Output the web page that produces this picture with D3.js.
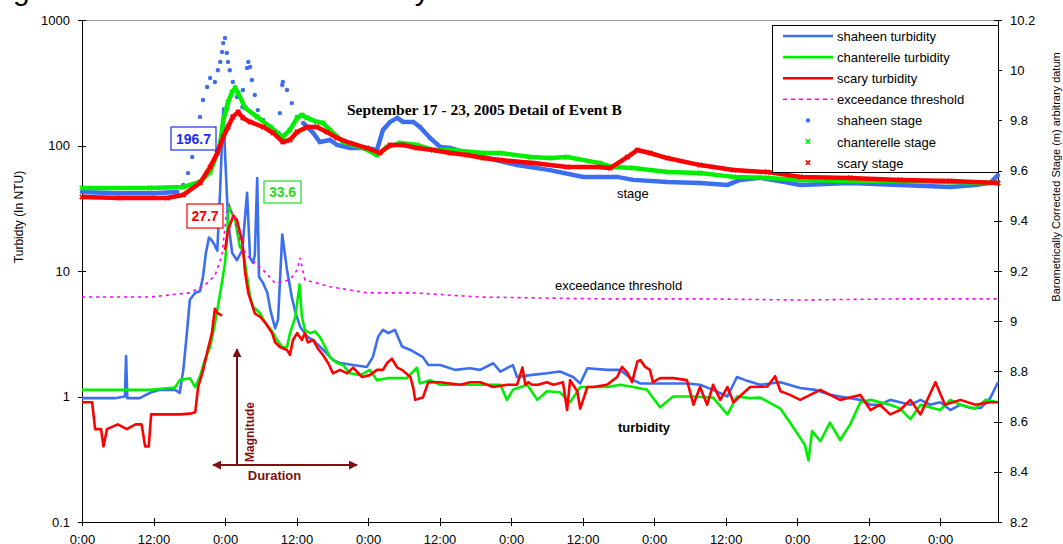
<!DOCTYPE html>
<html lang="en">
<head>
<meta charset="UTF-8">
<title>Event B turbidity and stage</title>
<script src="https://d3js.org/d3.v7.min.js"></script>
<style>
    body { margin: 0; background: #fff; }
    svg { display: block; font-family: "Liberation Sans", Arial, sans-serif; }
    .axis path, .axis line { fill: none; stroke: #000; shape-rendering: crispEdges; }
    .axis text { font-size: 13px; fill: #000; }
    .legend text { font-size: 13px; fill: #000; }
</style>
</head>
<body>
<svg width="1063" height="544"></svg>
<script>
// hours after 0:00, September 17 2005
var xTicks = [0, 12, 24, 36, 48, 60, 72, 84, 96, 108, 120, 132, 144];
var turbTicks = [0.1, 1, 10, 100, 1000];
var stageTicks = [8.2, 8.4, 8.6, 8.8, 9, 9.2, 9.4, 9.6, 9.8, 10, 10.2];

// turbidity, NTU  [hour, value]
var shaheenTurb = [[0,0.97],[3,0.97],[5.5,0.97],[7.2,1.0],[7.4,2.1],[7.6,0.97],[9.7,0.97],[11.4,1.07],[13.1,1.13],[15.6,1.13],[16.4,1.07],[17.0,1.63],[17.6,3.2],[18.1,5.9],[19.0,6.7],[19.8,6.9],[20.3,9.0],[20.8,14],[21.3,18.5],[21.8,17.5],[22.3,16],[22.7,14.5],[23.2,46.8],[23.7,196.7],[24.0,87],[24.5,25.5],[25.2,13.9],[26.0,12.2],[26.9,14.7],[27.7,41.9],[28.2,12.7],[28.7,11.6],[29.0,13.4],[29.4,55.1],[29.7,9.0],[30.4,8.0],[31.1,6.7],[31.6,4.9],[32.4,3.5],[32.9,4.1],[33.6,19.5],[34.4,10.2],[35.2,6.2],[35.8,4.7],[36.6,3.6],[37.8,3.0],[38.8,2.8],[39.9,2.5],[41.1,2.2],[42.1,1.95],[43.3,1.85],[45.5,1.78],[47.8,1.72],[48.8,2.06],[49.7,3.0],[50.5,3.4],[51.4,3.2],[52.5,3.4],[53.7,2.5],[55.1,2.35],[56.2,2.2],[57.2,2.06],[58.1,1.78],[60.1,1.78],[62.6,1.63],[65.1,1.68],[66.8,1.63],[69.0,1.84],[70.2,1.58],[72.3,1.78],[73.0,1.43],[75.2,1.48],[78.0,1.53],[80.2,1.58],[82.4,1.43],[83.6,1.27],[84.8,1.68],[88.1,1.63],[90.3,1.63],[92.5,1.35],[93.7,1.27],[95.8,1.27],[99.2,1.27],[101.5,1.27],[103.7,1.24],[105.9,1.13],[108.3,1.0],[109.9,1.43],[111.3,1.35],[113.8,1.24],[117.2,1.3],[120.5,1.17],[123.0,1.13],[125.5,1.03],[128.9,0.97],[130.6,0.94],[132.3,0.86],[133.9,0.86],[135.6,0.94],[137.3,0.9],[139.0,0.86],[140.7,0.94],[142.3,0.86],[144.0,0.9],[145.7,0.78],[147.4,0.86],[149.1,0.81],[150.8,0.81],[152.4,0.97],[153.7,1.3]];

var chanterelleTurb = [[0,1.13],[11.4,1.13],[15.6,1.18],[16.4,1.35],[18.1,1.4],[19.0,1.19],[19.8,1.45],[20.6,1.95],[21.5,2.48],[22.3,3.8],[23.2,6.7],[24.0,11.6],[24.3,17.5],[24.6,33.6],[25.0,30],[25.7,25.5],[26.5,15.5],[27.0,14.7],[27.7,9.0],[28.2,6.2],[28.7,5.2],[29.9,4.6],[30.7,3.9],[31.9,3.3],[32.7,2.82],[33.6,2.48],[34.4,2.48],[34.9,3.2],[35.8,4.3],[36.5,7.8],[36.9,4.3],[37.4,3.4],[38.3,3.2],[39.1,3.3],[39.9,2.98],[40.8,2.48],[41.6,2.06],[42.8,1.85],[43.8,1.78],[45.0,1.53],[46.7,1.48],[48.3,1.63],[49.5,1.35],[51.2,1.4],[52.9,1.4],[54.5,1.4],[56.2,1.7],[56.7,1.27],[58.4,1.35],[60.1,1.24],[63.5,1.24],[66.8,1.24],[70.2,1.24],[71.3,0.94],[72.3,1.13],[74.7,1.24],[76.4,0.94],[78.0,1.1],[80.2,1.08],[81.9,0.9],[83.6,1.19],[85.8,1.19],[88.1,1.19],[90.3,1.24],[92.5,1.19],[94.8,1.13],[97.0,0.82],[99.2,1.0],[102.6,1.0],[105.9,0.98],[108.3,0.72],[109.9,1.0],[112.1,0.97],[113.8,0.98],[117.2,0.8],[118.8,0.62],[120.5,0.47],[121.3,0.41],[121.9,0.31],[122.5,0.53],[123.9,0.44],[125.5,0.62],[127.2,0.45],[128.9,0.6],[130.6,0.9],[132.3,0.94],[135.6,0.86],[137.3,0.8],[139.0,0.66],[140.7,0.86],[144.0,0.78],[145.7,0.94],[147.4,0.86],[149.9,0.8],[151.6,0.94],[153.7,0.9]];

var scaryTurb = [[0,0.9],[1.7,0.9],[2.2,0.55],[3.2,0.55],[3.6,0.4],[4.2,0.55],[6.0,0.6],[7.5,0.55],[9.0,0.6],[10.0,0.6],[10.6,0.4],[11.2,0.4],[11.6,0.72],[14.0,0.72],[16.4,0.72],[18.1,0.73],[19.0,0.75],[19.5,1.2],[20.3,1.6],[21.1,2.35],[21.8,3.2],[22.3,5.0],[22.8,4.6],[23.5,4.4],[23.7,null],[24.0,14.7],[24.5,21],[25.4,27.7],[26.0,25.5],[26.9,17.0],[27.4,9.5],[27.9,6.7],[29.0,4.6],[29.9,4.3],[30.7,3.9],[31.2,3.6],[31.9,3.2],[32.4,2.7],[33.2,2.48],[34.4,2.35],[34.9,2.15],[35.4,2.82],[36.1,3.2],[36.9,2.82],[37.4,3.2],[37.9,2.7],[38.8,2.82],[39.6,2.4],[40.4,2.15],[41.3,1.85],[42.1,1.53],[43.3,1.63],[44.5,1.53],[45.5,1.7],[47.0,1.43],[48.3,1.48],[49.5,1.63],[50.5,1.63],[51.2,1.85],[52.0,2.0],[52.9,1.7],[53.7,1.63],[55.1,1.43],[55.6,1.16],[55.9,0.94],[57.2,0.98],[58.1,1.3],[60.1,1.3],[63.5,1.24],[65.1,1.3],[66.8,1.3],[68.0,1.24],[69.0,1.19],[71.3,1.24],[73.0,1.24],[73.9,1.7],[74.4,1.24],[74.9,1.3],[75.5,1.24],[76.5,1.24],[78.0,1.3],[79.1,1.24],[80.7,1.3],[81.4,0.78],[81.9,1.35],[83.1,1.1],[83.6,0.8],[84.8,1.19],[85.8,1.19],[88.1,1.24],[89.8,1.43],[90.6,1.72],[91.5,1.55],[92.3,1.3],[93.2,1.9],[93.7,1.95],[94.5,1.72],[95.3,1.63],[95.8,1.3],[97.0,1.4],[99.2,1.4],[101.5,1.35],[102.6,0.86],[103.7,1.19],[104.9,0.86],[105.9,1.24],[107.1,0.94],[108.3,1.19],[109.3,0.9],[112.1,1.19],[115.0,1.2],[116.3,1.45],[117.2,1.1],[118.8,1.03],[120.5,0.94],[123.9,1.13],[127.2,0.94],[130.6,1.03],[132.3,0.78],[133.9,0.86],[135.6,0.72],[137.3,0.78],[139.0,0.94],[140.7,0.72],[143.2,1.3],[144.8,0.86],[147.4,0.94],[149.9,0.86],[152.4,0.9],[153.7,0.9]];

var threshold = [[0,6.2],[11.4,6.2],[18.1,6.7],[20.6,7.7],[22.3,9.2],[23.5,13.4],[24.2,27.9],[24.7,33.6],[25.3,27.9],[26.5,17.7],[27.4,13.9],[28.5,12.2],[30.4,10.2],[32.4,8.0],[34.9,8.5],[36.1,10.2],[36.6,12.7],[37.4,8.5],[41.6,7.5],[47.8,6.7],[55.6,6.7],[66.8,6.2],[86.9,6.0],[103.7,6.0],[120.5,5.87],[137.3,6.0],[153.7,6.0]];

// stage, m  [hour, value]
var shaheenStage = [[0,9.515],[6,9.51],[12,9.51],[16,9.515],[17.0,9.543],[17.8,9.590],[18.5,9.654],[19.0,9.710],[19.8,9.814],[20.3,9.881],[21.0,9.933],[21.5,9.969],[22.3,9.953],[22.8,10.0],[23.2,10.033],[23.5,10.073],[23.7,10.108],[24.0,10.128],[24.3,10.069],[24.5,10.033],[24.8,10.0],[25.3,9.953],[26.0,9.893],[26.9,9.853],[27.0,9.921],[27.7,10.009],[27.9,10.033],[28.2,10.013],[28.5,9.961],[29.0,9.901],[29.5,9.841],[30.4,9.802],[31.6,9.774],[32.9,9.750],[33.2,9.829],[33.6,9.941],[33.7,9.953],[34.4,9.921],[35.2,9.869],[36.1,9.814],[37.1,9.790],[38.8,9.750],[39.9,9.714],[41.6,9.722],[42.8,9.702],[45.0,9.690],[47.8,9.690],[49.5,9.682],[50.0,9.722],[50.5,9.762],[51.7,9.794],[52.9,9.810],[53.9,9.794],[55.6,9.794],[56.7,9.774],[58.4,9.730],[60.1,9.694],[61.8,9.690],[64.6,9.670],[67.3,9.654],[73.0,9.622],[78.5,9.602],[84.1,9.575],[89.8,9.575],[92.5,9.563],[98.2,9.555],[103.7,9.551],[108.3,9.543],[110.4,9.563],[113.8,9.571],[117.7,9.555],[120.5,9.543],[128.9,9.551],[137.3,9.543],[145.7,9.535],[149.9,9.543],[152.4,9.551],[153.7,9.582]];

var chanterelleStage = [[0,9.531],[11.4,9.531],[17.0,9.535],[19.8,9.555],[21.5,9.594],[22.7,9.670],[23.2,9.710],[23.7,9.802],[24.3,9.849],[24.5,9.873],[25.2,9.913],[25.7,9.929],[26.2,9.909],[27.4,9.849],[29.4,9.814],[31.6,9.774],[33.7,9.734],[34.9,9.762],[36.1,9.810],[36.9,9.821],[37.8,9.810],[39.4,9.794],[40.4,9.790],[41.6,9.762],[43.8,9.714],[47.2,9.690],[49.5,9.662],[51.2,9.694],[53.4,9.710],[56.2,9.702],[58.9,9.682],[61.8,9.682],[67.3,9.670],[70.2,9.670],[75.2,9.654],[78.5,9.650],[81.4,9.654],[86.9,9.630],[89.1,9.614],[92.5,9.610],[98.2,9.594],[103.7,9.590],[109.3,9.575],[115.0,9.571],[120.5,9.563],[128.9,9.559],[137.3,9.559],[145.7,9.555],[153.7,9.551]];

var scaryStage = [[0,9.495],[6.4,9.491],[14.3,9.491],[17.0,9.503],[19.8,9.551],[21.5,9.614],[22.7,9.670],[23.7,9.734],[24.5,9.774],[25.3,9.814],[26.2,9.833],[27.0,9.810],[28.2,9.794],[30.4,9.774],[32.1,9.750],[33.7,9.714],[34.9,9.722],[36.1,9.754],[37.8,9.774],[39.4,9.774],[41.1,9.754],[42.8,9.730],[45.0,9.710],[47.8,9.690],[50.0,9.670],[51.7,9.702],[53.9,9.702],[56.2,9.690],[58.9,9.682],[61.8,9.670],[64.6,9.662],[67.3,9.650],[70.2,9.642],[75.7,9.630],[81.4,9.614],[86.9,9.614],[88.6,9.610],[91.5,9.654],[93.2,9.682],[95.3,9.670],[98.2,9.650],[103.7,9.622],[109.3,9.602],[115.0,9.594],[120.5,9.575],[128.9,9.571],[137.3,9.563],[145.7,9.559],[153.7,9.551]];

var blue = "#3c6ef0", green = "#00ee00", red = "#ff0000", magenta = "#ff00ff", maroon = "#801010";

var svg = d3.select("svg"),
    margin = {top: 20, right: 65, bottom: 22, left: 82},
    width = +svg.attr("width") - margin.left - margin.right,
    height = +svg.attr("height") - margin.top - margin.bottom,
    g = svg.append("g").attr("transform", "translate(" + margin.left + "," + margin.top + ")");

var x = d3.scaleLinear().domain([0, 153.7]).range([0, width]);
var yTurb = d3.scaleLog().domain([0.1, 1000]).range([height, 0]);
var yStage = d3.scaleLinear().domain([8.2, 10.2]).range([height, 0]);

// title, cut by the top of the frame (only descenders show)
svg.append("text")
    .attr("x", -12).attr("y", 0)
    .style("font-size", "30px")
    .text("Figure 9. Event B Creek Turbidity");

// top border of plot area
g.append("line")
    .attr("x1", 0).attr("x2", width).attr("y1", 0.5).attr("y2", 0.5)
    .attr("stroke", "#999");

// axes
var xAxis = g.append("g").attr("class", "axis")
    .attr("transform", "translate(0," + height + ")")
    .call(d3.axisBottom(x).tickValues(xTicks).tickSize(4).tickSizeOuter(0)
        .tickFormat(function(h) { return h % 24 === 0 ? "0:00" : "12:00"; }));
xAxis.selectAll(".tick line").attr("y1", -4);
xAxis.selectAll(".tick text").attr("y", 13);

var yAxisL = g.append("g").attr("class", "axis")
    .call(d3.axisLeft(yTurb).tickValues(turbTicks).tickSize(4).tickSizeOuter(0)
        .tickFormat(d3.format("~g")));
yAxisL.selectAll(".tick line").attr("x1", 4);
yAxisL.selectAll(".tick text").attr("x", -12);

var yAxisR = g.append("g").attr("class", "axis")
    .attr("transform", "translate(" + width + ",0)")
    .call(d3.axisRight(yStage).tickValues(stageTicks).tickSize(4).tickSizeOuter(0)
        .tickFormat(d3.format("~g")));
yAxisR.selectAll(".tick line").attr("x1", -4);
yAxisR.selectAll(".tick text").attr("x", 12);

// axis titles
svg.append("text")
    .attr("transform", "translate(23,217) rotate(-90)")
    .attr("text-anchor", "middle")
    .style("font-size", "12px")
    .text("Turbidty (In NTU)");

svg.append("text")
    .attr("transform", "translate(1060,177) rotate(-90)")
    .attr("text-anchor", "middle")
    .style("font-size", "11px")
    .text("Barometrically Corrected Stage (m) arbitrary datum");

// turbidity lines
var turbLine = d3.line()
    .defined(function(d) { return d[1] != null; })
    .x(function(d) { return x(d[0]); })
    .y(function(d) { return yTurb(d[1]); });

[[shaheenTurb, blue], [chanterelleTurb, green], [scaryTurb, red]].forEach(function(s) {
    g.append("path").datum(s[0])
        .attr("fill", "none").attr("stroke", s[1]).attr("stroke-width", 2.6)
        .attr("stroke-linejoin", "round")
        .attr("d", turbLine);
});

g.append("path").datum(threshold)
    .attr("fill", "none").attr("stroke", magenta).attr("stroke-width", 1.6)
    .attr("stroke-dasharray", "3,4")
    .attr("d", turbLine);

// stage series: dense markers read as a thick band, sparse ones as dots
function stageLine(gap) {
    return d3.line()
        .defined(function(d) { return !gap || d[0] < gap[0] || d[0] > gap[1]; })
        .x(function(d) { return x(d[0]); })
        .y(function(d) { return yStage(d[1]); });
}
var cross = "M-2.2,-2.2L2.2,2.2M-2.2,2.2L2.2,-2.2";

g.append("path").datum(shaheenStage)
    .attr("fill", "none").attr("stroke", blue).attr("stroke-width", 4.5)
    .attr("d", stageLine([16.5, 36.8]));
g.selectAll(".sdot").data(shaheenStage).enter().append("circle")
    .attr("class", "sdot")
    .attr("cx", function(d) { return x(d[0]); })
    .attr("cy", function(d) { return yStage(d[1]); })
    .attr("r", 2.2).attr("fill", blue);

[[chanterelleStage, green], [scaryStage, red]].forEach(function(s, i) {
    g.append("path").datum(s[0])
        .attr("fill", "none").attr("stroke", s[1]).attr("stroke-width", 4.5)
        .attr("d", stageLine(null));
    g.selectAll(".sx" + i).data(s[0]).enter().append("path")
        .attr("class", "sx" + i)
        .attr("transform", function(d) { return "translate(" + x(d[0]) + "," + yStage(d[1]) + ")"; })
        .attr("d", cross).attr("stroke", s[1]).attr("stroke-width", 1.6);
});

// peak value boxes
var peaks = [
    {label: "196.7", color: "#1a2ef0", x: 171, y: 127, w: 45, h: 23},
    {label: "27.7", color: red, x: 187, y: 204, w: 36, h: 24},
    {label: "33.6", color: "#22dd22", x: 264, y: 181, w: 37, h: 22}
];
peaks.forEach(function(p) {
    svg.append("rect").attr("x", p.x).attr("y", p.y).attr("width", p.w).attr("height", p.h)
        .attr("fill", "#fff").attr("stroke", p.color).attr("stroke-width", 1.2);
    svg.append("text").attr("x", p.x + p.w / 2).attr("y", p.y + p.h / 2 + 5)
        .attr("text-anchor", "middle").attr("fill", p.color)
        .style("font-size", "14px").style("font-weight", "bold")
        .text(p.label);
});

// notes
svg.append("text").attr("x", 347).attr("y", 115)
    .style("font-family", "'Liberation Serif', 'Times New Roman', serif")
    .style("font-size", "15.5px").style("font-weight", "bold")
    .text("September 17 - 23, 2005 Detail of Event B");
svg.append("text").attr("x", 617).attr("y", 198).style("font-size", "13px").text("stage");
svg.append("text").attr("x", 555).attr("y", 290).style("font-size", "13px").text("exceedance threshold");
svg.append("text").attr("x", 618).attr("y", 432).style("font-size", "13px").style("font-weight", "bold").text("turbidity");

// magnitude / duration arrows
var defs = svg.append("defs");
defs.append("marker").attr("id", "head")
    .attr("viewBox", "0 0 10 10").attr("refX", 9).attr("refY", 5)
    .attr("markerWidth", 4.5).attr("markerHeight", 4.5).attr("orient", "auto-start-reverse")
    .append("path").attr("d", "M0,0L10,5L0,10z").attr("fill", maroon);

svg.append("line").attr("x1", 237).attr("y1", 464).attr("x2", 237).attr("y2", 349)
    .attr("stroke", maroon).attr("stroke-width", 2).attr("marker-end", "url(#head)");
svg.append("line").attr("x1", 213).attr("y1", 465).attr("x2", 357).attr("y2", 465)
    .attr("stroke", maroon).attr("stroke-width", 2)
    .attr("marker-start", "url(#head)").attr("marker-end", "url(#head)");
svg.append("text").attr("transform", "translate(254,462) rotate(-90)")
    .attr("fill", maroon).style("font-size", "12px").style("font-weight", "bold")
    .text("Magnitude");
svg.append("text").attr("x", 274.5).attr("y", 480).attr("text-anchor", "middle")
    .attr("fill", maroon).style("font-size", "13px").style("font-weight", "bold")
    .text("Duration");

// legend
var legendItems = [
    {name: "shaheen turbidity", color: blue, type: "line"},
    {name: "chanterelle turbidity", color: green, type: "line"},
    {name: "scary turbidity", color: red, type: "line"},
    {name: "exceedance threshold", color: magenta, type: "dash"},
    {name: "shaheen stage", color: blue, type: "dot"},
    {name: "chanterelle stage", color: green, type: "cross"},
    {name: "scary stage", color: red, type: "cross"}
];
var legend = svg.append("g").attr("class", "legend");
legend.append("rect").attr("x", 772.5).attr("y", 25.5).attr("width", 226).attr("height", 147)
    .attr("fill", "#fff").attr("stroke", "#000");
legendItems.forEach(function(d, i) {
    var yy = 36 + i * 21.1;
    var row = legend.append("g").attr("transform", "translate(0," + yy + ")");
    if (d.type === "line" || d.type === "dash") {
        row.append("line").attr("x1", 783).attr("x2", 833).attr("y1", 0).attr("y2", 0)
            .attr("stroke", d.color).attr("stroke-width", d.type === "line" ? 2.6 : 1.6)
            .attr("stroke-dasharray", d.type === "dash" ? "4,4" : null);
    } else if (d.type === "dot") {
        row.append("circle").attr("cx", 808).attr("cy", 0).attr("r", 2.2).attr("fill", d.color);
    } else {
        row.append("path").attr("transform", "translate(808,0)").attr("d", cross)
            .attr("stroke", d.color).attr("stroke-width", 1.6);
    }
    row.append("text").attr("x", 837).attr("y", 5).text(d.name);
});
</script>
</body>
</html>
